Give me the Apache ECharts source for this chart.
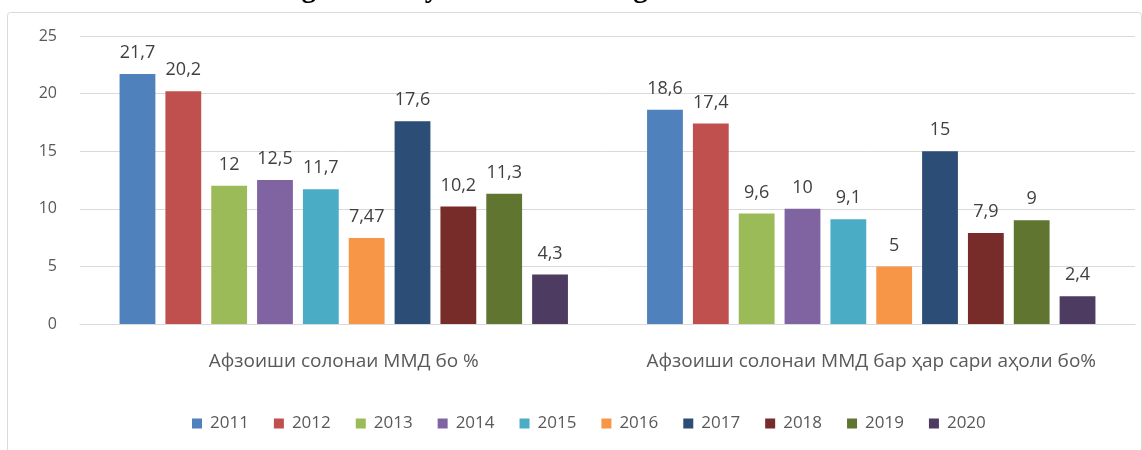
<!DOCTYPE html>
<html>
<head>
<meta charset="utf-8">
<script src="https://cdn.jsdelivr.net/npm/echarts@6/dist/echarts.min.js"></script>
<style>
  html, body { margin: 0; padding: 0; background: #fff; }
  #chart { width: 1142px; height: 450px; }
</style>
</head>
<body>
<div id="chart"></div>
<script>
const categories = ['Афзоиши солонаи ММД бо %', 'Афзоиши солонаи ММД бар ҳар сари аҳоли бо%']
const years = ['2011', '2012', '2013', '2014', '2015', '2016', '2017', '2018', '2019', '2020']
const values2011 = [21.7, 18.6]
const values2012 = [20.2, 17.4]
const values2013 = [12, 9.6]
const values2014 = [12.5, 10]
const values2015 = [11.7, 9.1]
const values2016 = [7.47, 5]
const values2017 = [17.6, 15]
const values2018 = [10.2, 7.9]
const values2019 = [11.3, 9]
const values2020 = [4.3, 2.4]
const yTicks = [0, 5, 10, 15, 20, 25]

const seriesValues = [values2011, values2012, values2013, values2014, values2015,
  values2016, values2017, values2018, values2019, values2020]
const colors = ['#4F81BD', '#C0504D', '#9BBB59', '#8064A2', '#4BACC6',
  '#F79646', '#2C4D75', '#772C2A', '#5F7530', '#4D3B62']

const font = '"Open Sans", sans-serif'

const chart = echarts.init(document.getElementById('chart'))

chart.setOption({
  animation: false,
  color: colors,
  title: {
    text: 'Diagram 1. Dynamics of GDP growth in 2011-2020',
    left: 'center',
    top: -25,
    padding: 0,
    textStyle: { fontFamily: '"Liberation Serif", serif', fontWeight: 'bold', fontSize: 29, color: '#000' }
  },
  graphic: [{
    type: 'rect',
    left: 5, top: 10,
    shape: { width: 1134, height: 445, r: 3 },
    style: { fill: 'none', stroke: '#d9d9d9', lineWidth: 1 },
    z: -1
  }],
  grid: { left: 80, right: 7, top: 36, bottom: 126 },
  legend: {
    top: 410,
    left: 187,
    itemWidth: 10,
    itemHeight: 10,
    itemGap: 25,
    icon: 'rect',
    textStyle: { fontFamily: font, fontSize: 17, color: '#595959', padding: [0, 0, 0, 3] },
    data: years
  },
  xAxis: {
    type: 'category',
    data: categories,
    axisLine: { lineStyle: { color: '#d9d9d9' } },
    axisTick: { show: false },
    axisLabel: { interval: 0, hideOverlap: false, fontFamily: font, fontSize: 19, color: '#595959', margin: 28 }
  },
  yAxis: {
    type: 'value',
    min: yTicks[0],
    max: yTicks[yTicks.length - 1],
    interval: 5,
    axisLine: { show: false },
    axisTick: { show: false },
    splitLine: { lineStyle: { color: '#d9d9d9' } },
    axisLabel: { fontFamily: font, fontSize: 16, color: '#595959', margin: 23 }
  },
  series: years.map((y, i) => ({
    name: y,
    type: 'bar',
    data: seriesValues[i],
    barGap: '28%',
    barCategoryGap: '15%',
    label: {
      show: true,
      position: 'top',
      distance: 12,
      fontFamily: font,
      fontSize: 18,
      color: '#404040',
      formatter: p => String(p.value).replace('.', ',')
    }
  }))
})
</script>
</body>
</html>
